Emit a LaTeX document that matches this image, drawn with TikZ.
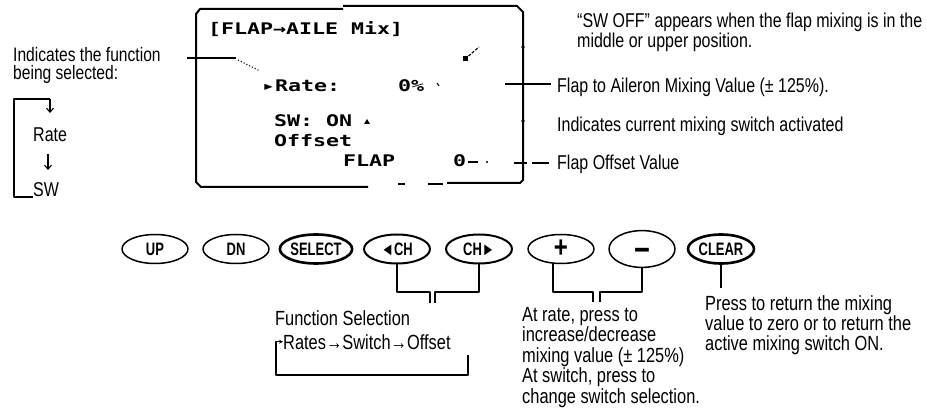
\documentclass[tikz,border=0pt]{standalone}
\usepackage{fontspec}
\setmainfont{Liberation Sans}[FakeStretch=0.8]
\newfontfamily\btnfont{Liberation Sans}[FakeStretch=0.72]
\newfontfamily\lcdfont{DejaVu Sans Mono}[FakeStretch=1.35]
\usetikzlibrary{arrows.meta,shapes.geometric,calc}

\begin{document}
\begin{tikzpicture}[x=1pt,y=-1pt,>=Stealth,line join=round,
  frame/.style={line width=2pt},
  lead/.style={line width=1.1pt},
  txt/.style={inner sep=0pt,align=left,font=\fontsize{20}{18}\selectfont},
  lcd/.style={inner sep=0pt,font=\lcdfont\bfseries\fontsize{16}{16}\selectfont},
  btn/.style={ellipse,draw,line width=1.5pt,minimum width=66pt,minimum height=29pt,
    inner sep=0pt,font=\btnfont\bfseries\fontsize{18}{18}\selectfont},
  btnthick/.style={btn,line width=2.6pt},
  dnarrow/.style={lead,-{Straight Barb[length=4pt,width=7pt]}}]
  \useasboundingbox (0,0) rectangle (927,414);

  % LCD frame
  \draw[frame] (368,187) -- (201,187) -- (196,182) -- (196,14) -- (200,9) -- (343,9);
  \draw[frame] (343,6) -- (517,6) -- (523,12) -- (523,180) -- (520,183) -- (447,183);
  \draw[frame] (428,184) -- (443,184);
  \draw[frame] (398,184) -- (405,184);
  \fill (523,47) circle (1.8pt);
  \fill (523,121) circle (1.8pt);

  % LCD texts
  \node[lcd,anchor=base west] (title) at (208,35) {[FLAP→AILE Mix]};
  \node[lcd,anchor=base west] (ratelcd) at (262,92) {▸Rate:};
  \node[lcd,anchor=base west] (rateval) at (398,92) {0\%};
  \node[lcd,anchor=base west] (swlcd) at (274,127) {SW: ON};
  \node[lcd,anchor=base west] (offlcd) at (274,147) {Offset};
  \node[lcd,anchor=base west] (flaplcd) at (343,167) {FLAP};
  \node[lcd,anchor=base west] (offval) at (453,167) {0};
  \fill (364,124) -- (370,124) -- (367,119) -- cycle;
  \draw[lead] (437,83) -- (439,86);
  \draw[lead] (468,162) -- (478,162);
  \fill (487,162) circle (1.2pt);
  \coordinate (swoffA) at (465,59);
  \coordinate (swoffB) at (479,47);
  \draw[lead,dashed,dash pattern=on 3pt off 1.5pt] (swoffA) -- (swoffB);
  \fill (swoffA) ++(-2.5,-2.5) rectangle ++(5,5);

  % left note
  \node[txt,anchor=north west,font=\fontsize{19.5}{18.5}\selectfont] (ind) at (13,47)
    {Indicates the function\\being selected:};
  \node[txt,anchor=base west] (rate) at (33,142) {Rate};
  \node[txt,anchor=base west] (sw) at (33,197) {SW};
  \coordinate (selL) at (187,58);
  \coordinate (selR) at (236,58);
  \coordinate (selD) at (260,71);
  \draw[lead] (selL) -- (selR);
  \draw[lead,dotted] (selR) ++(2,2) -- (selD);
  \coordinate (brk) at (14,99);
  \coordinate (brkR) at (50,99);
  \draw[lead] (sw.base west) -| (brk) -- (brkR);
  \draw[dnarrow] (brkR) -- ++(0,14);
  \draw[dnarrow,shorten <=12pt,shorten >=13pt] (48,142) -- (48,183);

  % right notes
  \node[txt,anchor=north west] (swoff) at (577,13)
    {“SW OFF” appears when the flap mixing is in the\\middle or upper position.};
  \node[txt,anchor=base west] (flapmix) at (557,93) {Flap to Aileron Mixing Value (± 125\%).};
  \node[txt,anchor=base west] (swact) at (557,132) {Indicates current mixing switch activated};
  \node[txt,anchor=base west] (flapoff) at (557,170) {Flap Offset Value};
  \coordinate (mixL) at (505,84);
  \draw[lead,shorten >=6pt] (mixL) -- (mixL -| flapmix.west);
  \draw[lead,shorten >=8pt] (532,163) -- (532,163 -| flapoff.west);
  \draw[lead] (514,163) -- (527,163);

  % buttons
  \node[btn] (up) at (155,249) {UP};
  \node[btn] (dn) at (236,249) {DN};
  \node[btnthick] (sel) at (316,249) {SELECT};
  \node[btn,line width=2pt] (chl) at (397,249) {◄CH};
  \node[btn,line width=2pt] (chr) at (479,249) {CH►};
  \node[btn,font=\bfseries\fontsize{30}{30}\selectfont] (plus) at (561,249) {+};
  \node[btn,font=\bfseries\fontsize{34}{34}\selectfont,text height=26pt,text depth=-8pt] (minus) at (642,249) {−};
  \node[btnthick] (clr) at (721,249) {CLEAR};

  % connectors below buttons
  \coordinate (fsj) at (432.5,292);
  \draw[lead] (chl.south) |- ([xshift=-2.5pt]fsj) -- ++(0,11);
  \draw[lead] (chr.south) |- ([xshift=2.5pt]fsj) -- ++(0,11);
  \coordinate (pmj) at (596.5,292);
  \draw[lead] ([xshift=-8pt]plus.south) |- ([xshift=-3.5pt]pmj) -- ++(0,10);
  \draw[lead] (minus.south) |- ([xshift=3.5pt]pmj) -- ++(0,10);
  \coordinate (clrD) at (721,288);
  \draw[lead] (clr.south) -- (clrD);

  % bottom notes
  \node[txt,anchor=base west,font=\fontsize{20.5}{20}\selectfont] (fsel) at (275,325) {Function Selection};
  \node[txt,anchor=base west,font=\fontsize{20.5}{20}\selectfont] (seq) at (283,349) {Rates→Switch→Offset};
  \coordinate (loopR) at (468,355);
  \draw[lead,->,>={Stealth[length=4pt,width=4pt]}] (loopR) |- (276,375) |- (seq.west);
  \node[txt,anchor=north west,font=\fontsize{20.5}{20.5}\selectfont] (pmnote) at (522,307)
    {At rate, press to\\increase/decrease\\mixing value (± 125\%)\\At switch, press to\\change switch selection.};
  \node[txt,anchor=north west,font=\fontsize{20.5}{20}\selectfont] (clrnote) at (705,295)
    {Press to return the mixing\\value to zero or to return the\\active mixing switch ON.};
\end{tikzpicture}
\end{document}
